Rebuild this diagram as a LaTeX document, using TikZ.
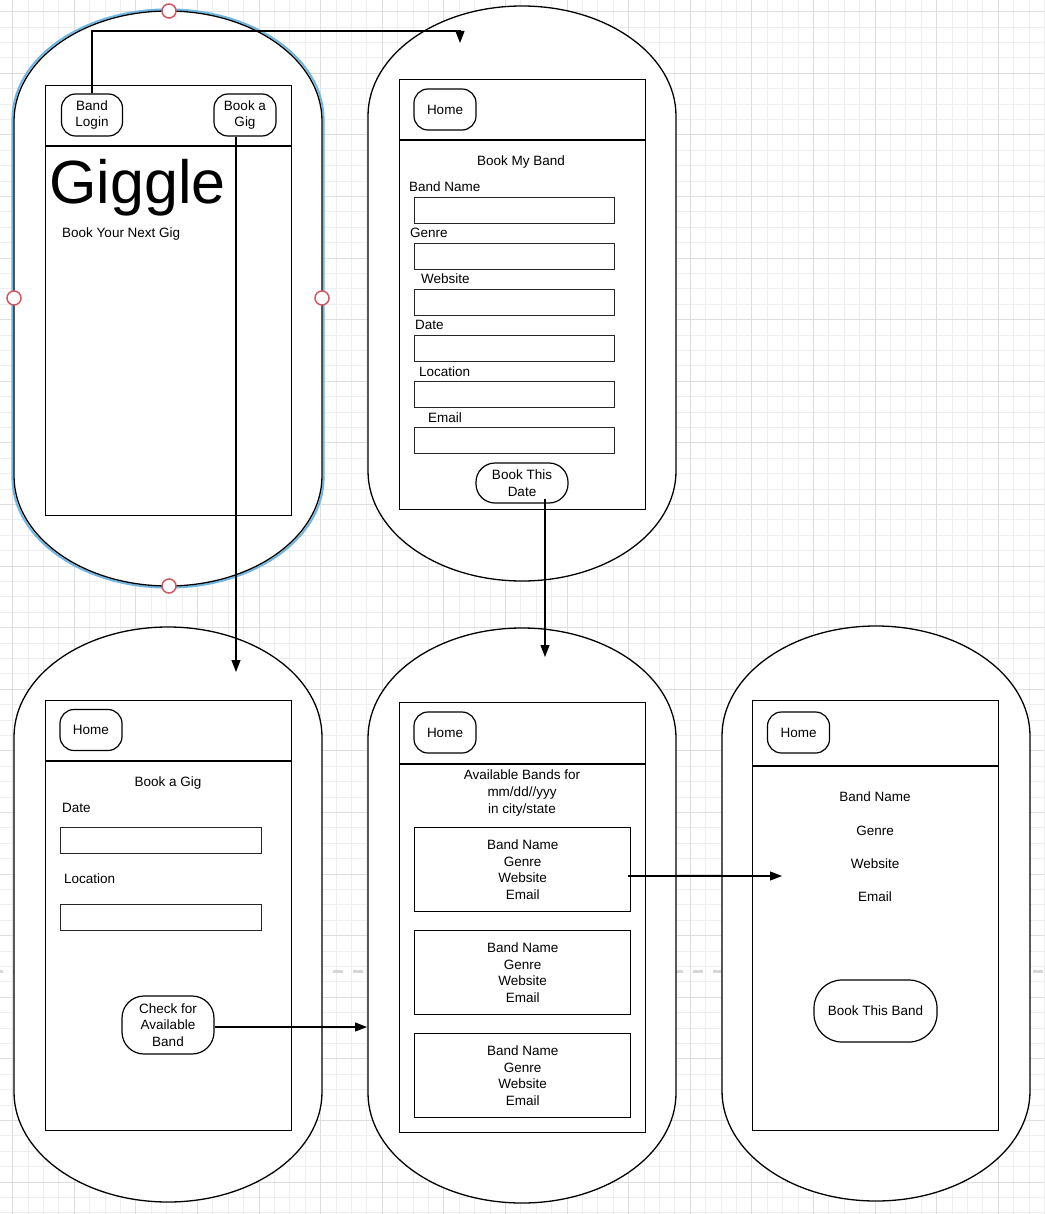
\documentclass[tikz,border=0pt]{standalone}
\usepackage{fontspec}
\setmainfont{Liberation Sans}
\usetikzlibrary{arrows.meta}
\definecolor{gridminor}{HTML}{EEEEEE}
\definecolor{gridmajor}{HTML}{DEDEDE}
\definecolor{pagebreak}{HTML}{D6D6D6}
\definecolor{selblue}{HTML}{6FB6E2}
\definecolor{handlered}{HTML}{D0575F}
\newcommand\uitext{\fontsize{13.5}{16.6}\selectfont}
% phone outline: left x, top y, width, height (end caps are half ellipses)
\newcommand\phoneoutline[5][]{%
  \draw[phone,#1] (#2,#3+110) arc[start angle=180,end angle=360,x radius=#4/2,y radius=110]
    -- (#2+#4,#3+#5-110) arc[start angle=0,end angle=180,x radius=#4/2,y radius=110] -- cycle;}
\begin{document}
\begin{tikzpicture}[x=1pt,y=-1pt,
  phone/.style={draw=black, line width=1.3pt, fill=white},
  screen/.style={draw=black, line width=1.3pt, fill=white, rectangle, anchor=north west,
    inner sep=0pt, minimum width=246pt, minimum height=430pt},
  rule/.style={draw=black, line width=1.3pt},
  btn/.style={draw=black, line width=1.2pt, fill=white, rounded corners=#1, align=center,
    inner sep=0pt, font=\uitext},
  btn/.default=14pt,
  homebtn/.style={btn, minimum width=62pt, minimum height=41pt, text height=9.7pt, text depth=0pt},
  field/.style={draw=black!85, line width=1.3pt, fill=white, rectangle, anchor=north west,
    inner sep=0pt, minimum width=200pt, minimum height=26pt},
  bandbox/.style={draw=black, line width=1.3pt, fill=white, rectangle, anchor=north west,
    inner sep=0pt, minimum width=216pt, minimum height=84pt, align=center, font=\uitext},
  lbl/.style={inner sep=0pt, font=\uitext, text height=9.7pt, text depth=0pt},
  multi/.style={inner sep=0pt, font=\uitext, align=center},
  handle/.style={circle, draw=handlered, line width=1.5pt, fill=white, minimum size=14pt, inner sep=0pt},
  link/.style={draw=black, line width=1.2pt, -{Triangle[length=12pt,width=9pt]}}
]
\useasboundingbox (0,0) rectangle (1044,1214);
\fill[white] (0,0) rectangle (1044,1214);

% background grid
\foreach \i in {0,...,67} \draw[gridminor, line width=1pt] ({12.7+15.4*\i},0) -- ({12.7+15.4*\i},1214);
\foreach \j in {0,...,78} \draw[gridminor, line width=1pt] (0,{11.7+15.4*\j}) -- (1044,{11.7+15.4*\j});
\foreach \i in {0,...,16} \draw[gridmajor, line width=1pt] ({12.7+61.6*\i},0) -- ({12.7+61.6*\i},1214);
\foreach \j in {0,...,19} \draw[gridmajor, line width=1pt] (0,{11.7+61.6*\j}) -- (1044,{11.7+61.6*\j});
% page break
\draw[pagebreak, line width=3pt, dash pattern=on 10pt off 10pt, dash phase=7pt] (0,971.5) -- (1044,971.5);

% ---------- Screen 1: landing ----------
\phoneoutline[draw=selblue, line width=2pt]{12.4}{9.4}{311.2}{578.2}
\phoneoutline{14}{11}{308}{575}
\node[screen] (scr1) at (45,85) {};
\draw[rule] (45,146) -- (291,146);
\node[btn, minimum width=61pt, minimum height=42pt] (login) at (92,115) {Band\\Login};
\node[btn, minimum width=62pt, minimum height=42pt] (bookgig) at (245,115) {Book a\\Gig};
\node[inner sep=0pt, anchor=base west, font=\fontsize{61}{61}\selectfont] (logo) at (49,204) {Giggle};
\node[lbl, anchor=west] (tagline) at (62,233) {Book Your Next Gig};

% ---------- Screen 2: book my band ----------
\phoneoutline{368}{6}{308}{575}
\node[screen] (scr2) at (399,79) {};
\draw[rule] (399,140) -- (645,140);
\node[homebtn] (home2) at (445,109.5) {Home};
\node[lbl] (title2) at (521,161) {Book My Band};
\node[lbl, anchor=west] (lname) at (409,187) {Band Name};
\node[field] (fname) at (414,197) {};
\node[lbl, anchor=west] (lgenre) at (410,233) {Genre};
\node[field] (fgenre) at (414,243) {};
\node[lbl, anchor=west] (lweb) at (421,279) {Website};
\node[field] (fweb) at (414,289) {};
\node[lbl, anchor=west] (ldate2) at (415,325) {Date};
\node[field] (fdate2) at (414,335) {};
\node[lbl, anchor=west] (lloc2) at (419,372) {Location};
\node[field] (floc2) at (414,381) {};
\node[lbl, anchor=west] (lmail) at (428,418) {Email};
\node[field] (fmail) at (414,427) {};
\node[btn=19pt, minimum width=92pt, minimum height=40pt] (bookdate) at (522,483) {Book This\\Date};

% ---------- Screen 3: book a gig ----------
\phoneoutline{14}{627}{308}{575}
\node[screen] (scr3) at (45,700) {};
\draw[rule] (45,761) -- (291,761);
\node[homebtn] (home3) at (91,730) {Home};
\node[lbl] (title3) at (168,782) {Book a Gig};
\node[lbl, anchor=west] (ldate3) at (62,808) {Date};
\node[field, minimum width=201pt] (fdate3) at (60,827) {};
\node[lbl, anchor=west] (lloc3) at (64,879) {Location};
\node[field, minimum width=201pt] (floc3) at (60,904) {};
\node[btn=22pt, minimum width=92pt, minimum height=58pt] (check) at (168,1025) {Check for\\Available\\Band};

% ---------- Screen 4: available bands ----------
\phoneoutline{368}{628}{308}{575}
\node[screen] (scr4) at (399,702) {};
\draw[rule] (399,764) -- (645,764);
\node[homebtn] (home4) at (445,732.5) {Home};
\node[multi] (title4) at (522,793) {Available Bands for\\mm/dd//yyy\\in city/state};
\node[bandbox] (band1) at (414,827) {Band Name\\Genre\\Website\\Email};
\node[bandbox] (band2) at (414,930) {Band Name\\Genre\\Website\\Email};
\node[bandbox] (band3) at (414,1033) {Band Name\\Genre\\Website\\Email};

% ---------- Screen 5: band details ----------
\phoneoutline{722}{626}{308}{575}
\node[screen] (scr5) at (752,700) {};
\draw[rule] (752,766) -- (998,766);
\node[homebtn] (home5) at (798.5,732.5) {Home};
\node[lbl] (dname) at (875,797) {Band Name};
\node[lbl] (dgenre) at (875,831) {Genre};
\node[lbl] (dweb) at (875,864) {Website};
\node[lbl] (dmail) at (875,897) {Email};
\node[btn=28pt, minimum width=123pt, minimum height=62pt, text height=9.7pt, text depth=0pt] (bookband) at (875.5,1011) {Book This Band};

% selection handles on the first screen
\node[handle] (h1) at (169,11) {};
\node[handle] (h2) at (14,298) {};
\node[handle] (h3) at (322,298) {};
\node[handle] (h4) at (169,586) {};

% ---------- navigation links ----------
\coordinate (t2turn) at (460,31);
\coordinate (t2) at (460,43);
\coordinate (t3) at (236,672);
\coordinate (t4) at (545,657);
\coordinate (t4b) at (367,1027);
\coordinate (t5) at (782,876);
\draw[link] (login.north) |- (t2turn) -- (t2);
\draw[link] (bookgig.south -| t3) -- (t3);
\draw[link] (bookdate.south -| t4) ++(0,-5) -- (t4);
\draw[link] (check.east |- t4b) -- (t4b);
\draw[link] (band1.east |- t5) ++(-3,0) -- (t5);
\end{tikzpicture}
\end{document}
